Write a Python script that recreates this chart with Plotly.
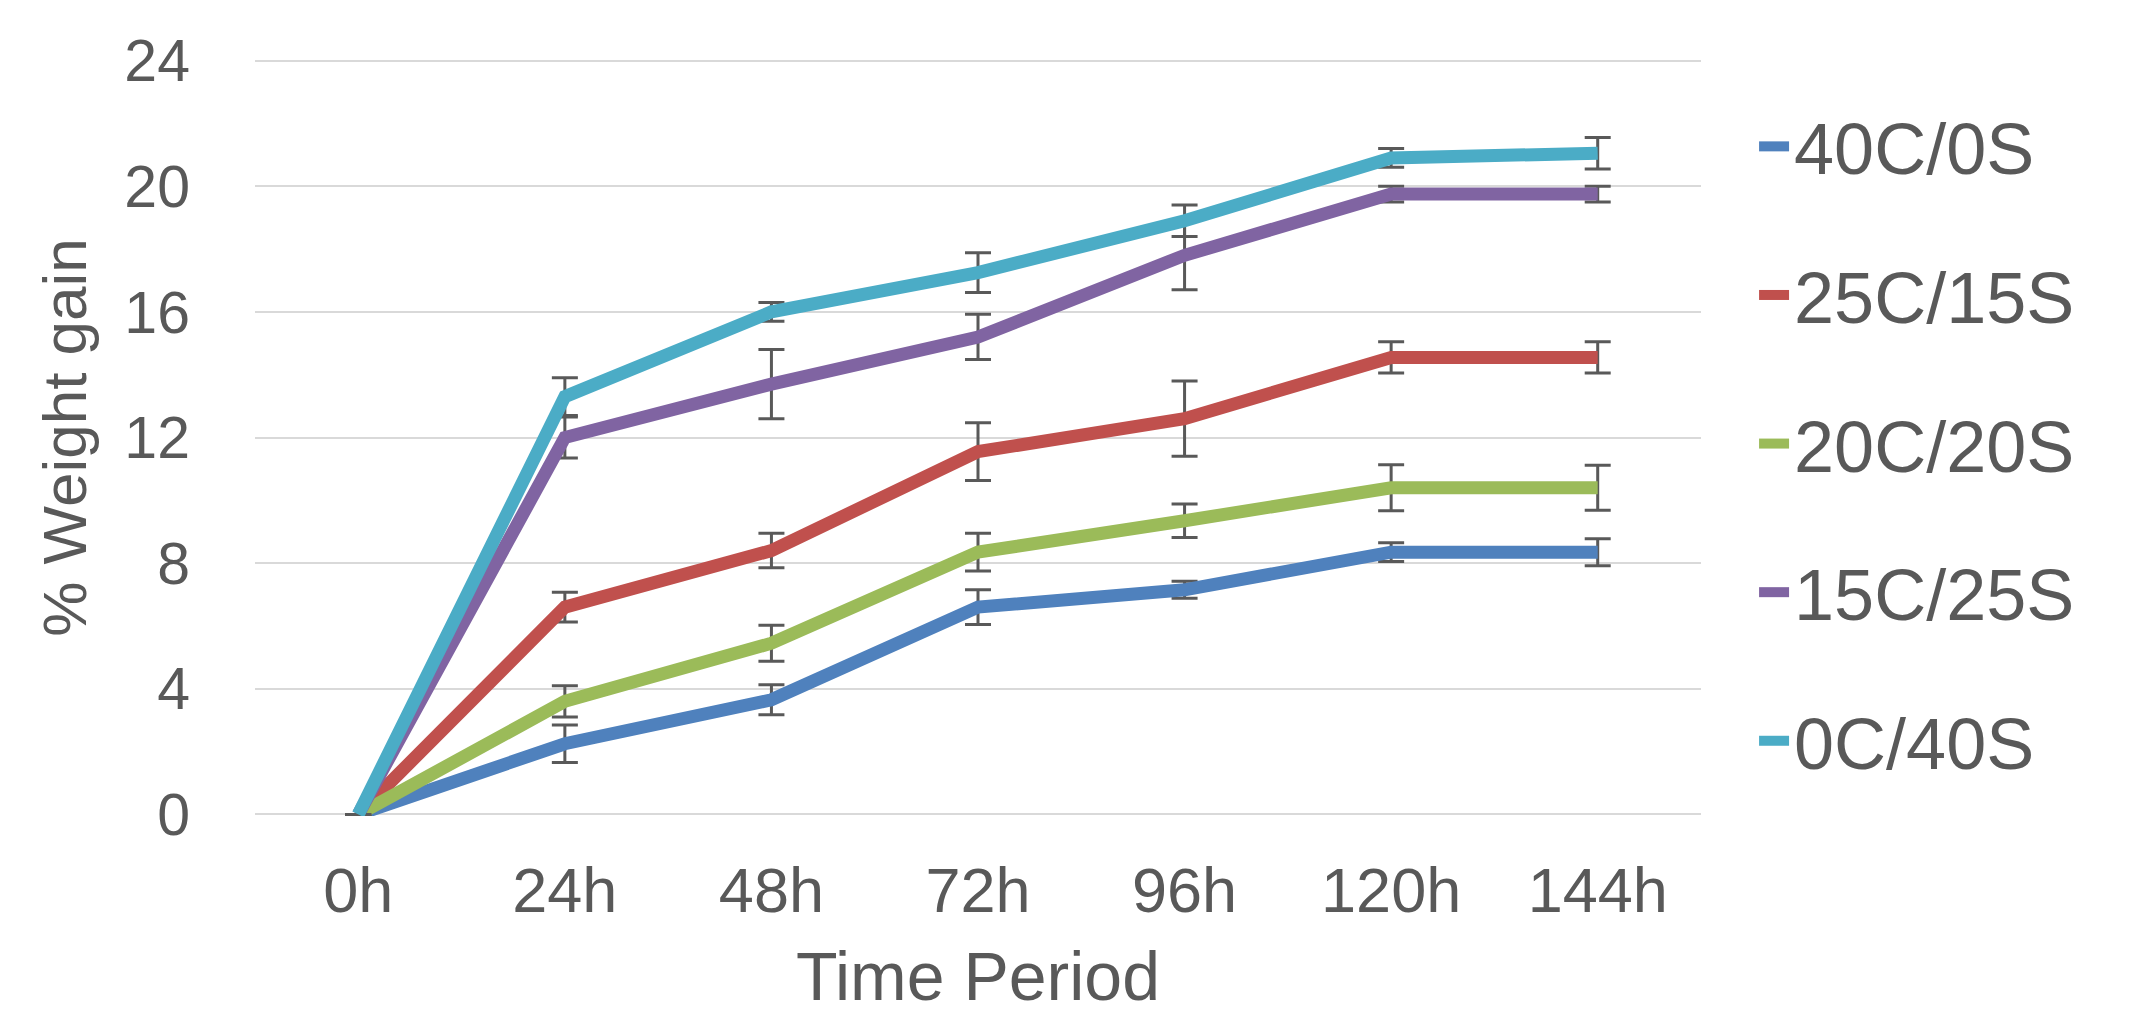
import plotly.graph_objects as go

categories = ["0h", "24h", "48h", "72h", "96h", "120h", "144h"]
series_names = ["40C/0S", "25C/15S", "20C/20S", "15C/25S", "0C/40S"]
colors = ["#4F81BD", "#C0504D", "#9BBB59", "#8064A2", "#4BACC6"]

v_40c0s = [0, 2.25, 3.65, 6.6, 7.15, 8.35, 8.35]
e_40c0s = [0, 0.6, 0.48, 0.55, 0.27, 0.3, 0.43]
v_25c15s = [0, 6.6, 8.4, 11.55, 12.6, 14.55, 14.55]
e_25c15s = [0, 0.47, 0.55, 0.92, 1.2, 0.5, 0.5]
v_20c20s = [0, 3.6, 5.45, 8.35, 9.35, 10.4, 10.4]
e_20c20s = [0, 0.5, 0.57, 0.6, 0.53, 0.73, 0.72]
v_15c25s = [0, 12.0, 13.7, 15.2, 17.8, 19.75, 19.75]
e_15c25s = [0, 0.65, 1.1, 0.72, 1.1, 0.25, 0.25]
v_0c40s = [0, 13.3, 16.0, 17.25, 18.9, 20.9, 21.05]
e_0c40s = [0, 0.6, 0.3, 0.63, 0.5, 0.3, 0.5]

values = [v_40c0s, v_25c15s, v_20c20s, v_15c25s, v_0c40s]
errors = [e_40c0s, e_25c15s, e_20c20s, e_15c25s, e_0c40s]

y_ticks = [0, 4, 8, 12, 16, 20, 24]

FONT = "Liberation Sans, Arial, sans-serif"
TXT = "#595959"

fig = go.Figure()
for i, name in enumerate(series_names):
    fig.add_trace(go.Scatter(
        x=categories, y=values[i], name=name, mode="lines",
        line=dict(color=colors[i], width=13),
        error_y=dict(type="data", array=errors[i], visible=True,
                     color="#595959", thickness=3, width=13),
        legendgroup=name,
    ))

fig.update_layout(
    width=2139, height=1017,
    margin=dict(l=255, r=438, t=59, b=201, autoexpand=False),
    paper_bgcolor="white", plot_bgcolor="white",
    font=dict(family=FONT, color=TXT, size=63),
    showlegend=True,
    legend=dict(x=1.0367, xanchor="left", y=0.955, yanchor="top",
                font=dict(size=72, color=TXT), tracegroupgap=52,
                bgcolor="rgba(0,0,0,0)"),
    xaxis=dict(type="category", categoryorder="array", categoryarray=categories,
               range=[-0.5, 6.5], showgrid=False, zeroline=False, showline=False,
               ticks="", tickfont=dict(size=63, color=TXT), ticklabelstandoff=32,
               automargin=False,
               title=dict(text="Time Period", font=dict(size=68, color=TXT), standoff=28)),
    yaxis=dict(range=[-0.05, 24.05], tickvals=y_ticks, showgrid=True, gridcolor="#D9D9D9",
               gridwidth=2, zeroline=False, showline=False, ticks="",
               tickfont=dict(size=59, color=TXT), ticklabelstandoff=64,
               automargin=False,
               title=dict(text="% Weight gain", font=dict(size=62, color=TXT), standoff=17)),
)

fig.write_html("out.html", config={"displayModeBar": False},
               post_script="document.body.style.margin='0';")
